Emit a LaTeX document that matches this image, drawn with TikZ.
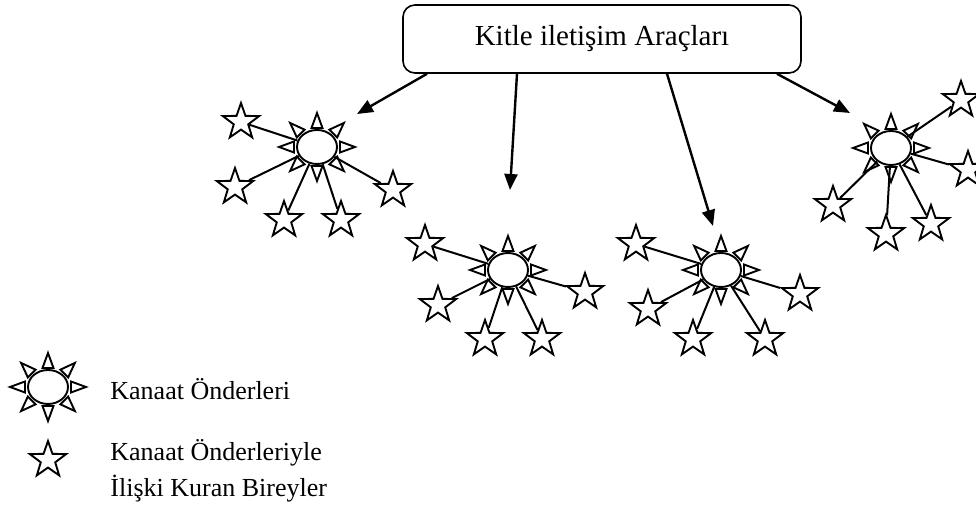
\documentclass[tikz,border=0pt]{standalone}
\usepackage{fontspec}
\setmainfont{Liberation Serif}
\usetikzlibrary{arrows.meta, shapes.geometric}

\tikzset{
    lider/.style={ellipse, draw, line width=0.95pt, minimum width=20pt, minimum height=17pt, inner sep=0pt},
    birey/.style={star, star points=5, star point ratio=2.5, draw, line width=0.95pt, minimum size=19pt, inner sep=0pt},
    isin/.style={draw, line width=0.95pt, line join=miter},
    bag/.style={line width=1pt},
    oku/.style={line width=1.2pt, -{Triangle[length=8pt, width=6.5pt]}},
}

\begin{document}
\begin{tikzpicture}[x=0.5pt, y=-0.5pt]
    \useasboundingbox (0,0) rectangle (976,512);

    % Media box
    \node[draw, line width=0.8pt, rounded corners=6pt, minimum width=199pt, minimum height=34pt,
          font=\fontsize{14.5}{17}\selectfont] (kitle) at (602,39) {Kitle iletişim Araçları};

    % Opinion leaders
    \node[lider] (k1) at (317,147) {};
    \node[lider] (k2) at (508,270) {};
    \node[lider] (k3) at (721,270) {};
    \node[lider] (k4) at (891,148) {};
    \node[lider] (k0) at (48,387) {};

    % Rays round each leader
    \foreach \k in {k0,k1,k2,k3,k4}
        \foreach \a in {0,45,...,315}
            \draw[isin, shift={(\k.center)}, shift={({23*cos(\a)},{19*sin(\a)})}, rotate=-\a]
                (0,-5.5) -- (15,0) -- (0,5.5) -- cycle;

    % Individuals
    \node[birey] (a1) at (241,122) {};
    \node[birey] (a2) at (235,187) {};
    \node[birey] (a3) at (393,190) {};
    \node[birey] (a4) at (284,220) {};
    \node[birey] (a5) at (341,220) {};

    \node[birey] (b1) at (425,244) {};
    \node[birey] (b2) at (438,305) {};
    \node[birey] (b3) at (485,339) {};
    \node[birey] (b4) at (542,339) {};
    \node[birey] (b5) at (585,292) {};

    \node[birey] (c1) at (636,244) {};
    \node[birey] (c2) at (648,309) {};
    \node[birey] (c3) at (693,339) {};
    \node[birey] (c4) at (765,339) {};
    \node[birey] (c5) at (800,294) {};

    \node[birey] (d1) at (961,100) {};
    \node[birey] (d2) at (968,170) {};
    \node[birey] (d3) at (833,205) {};
    \node[birey] (d4) at (886,234) {};
    \node[birey] (d5) at (931,224) {};

    \node[birey] (e0) at (48,460) {};

    % Ties to the leaders
    \foreach \s in {1,...,5} {
        \draw[bag] (a\s) -- (k1);
        \draw[bag] (b\s) -- (k2);
        \draw[bag] (c\s) -- (k3);
        \draw[bag] (d\s) -- (k4);
    }

    % Arrows from the media
    \coordinate (u1) at (357,114);
    \coordinate (u2) at (510,190);
    \coordinate (u3) at (713,226);
    \coordinate (u4) at (850,113);
    \draw[oku] ([xshift=-87.5pt]kitle.south) -- (u1);
    \draw[oku] ([xshift=-42.5pt]kitle.south) -- (u2);
    \draw[oku] ([xshift=32.5pt]kitle.south) -- (u3);
    \draw[oku] ([xshift=87.5pt]kitle.south) -- (u4);

    % Legend
    \node[anchor=base west, inner sep=0pt, font=\fontsize{13}{16}\selectfont] (t0) at (110,400) {Kanaat Önderleri};
    \node[anchor=base west, inner sep=0pt, font=\fontsize{13}{16}\selectfont] (t1) at (110,461) {Kanaat Önderleriyle};
    \node[anchor=base west, inner sep=0pt, font=\fontsize{13}{16}\selectfont] (t2) at (110,497) {İlişki Kuran Bireyler};
\end{tikzpicture}
\end{document}
